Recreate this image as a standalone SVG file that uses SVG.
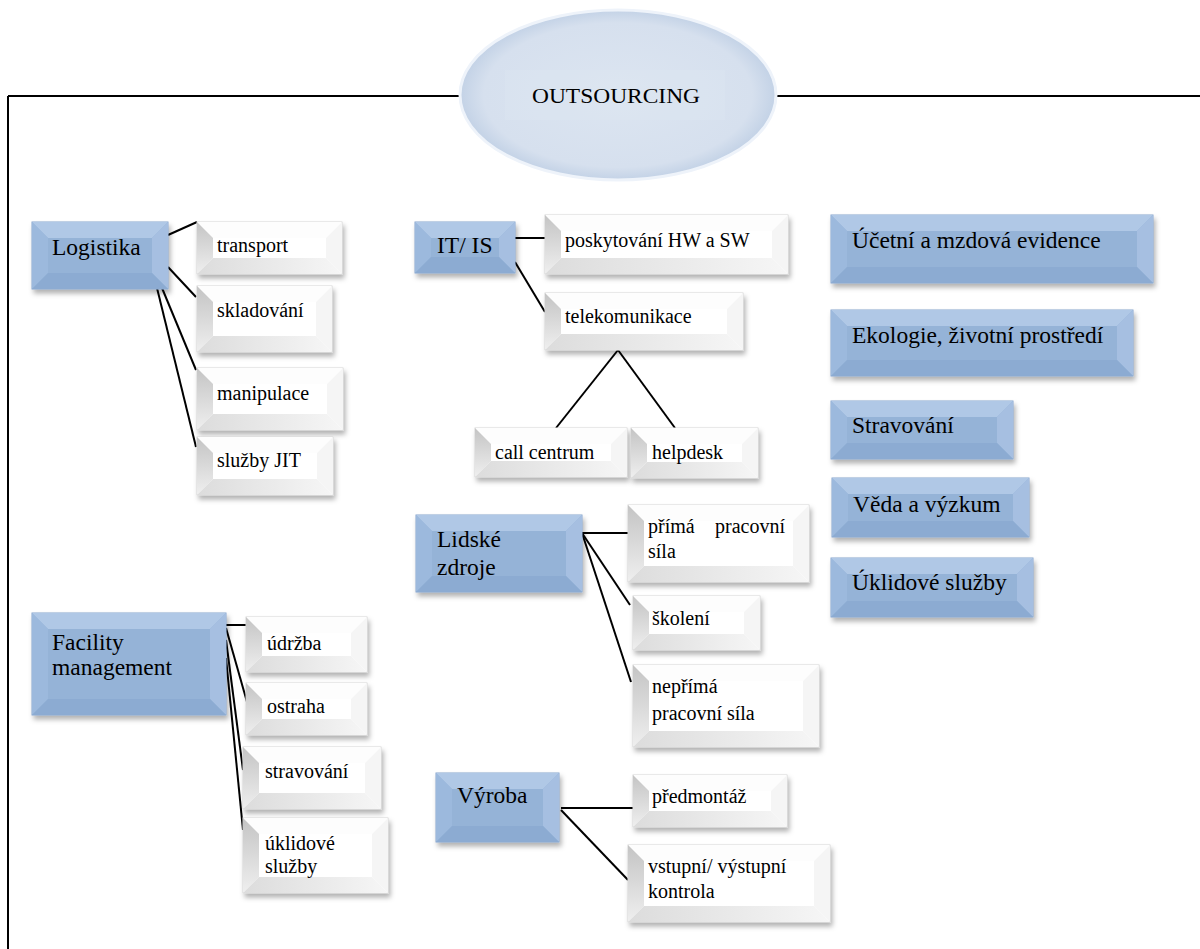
<svg xmlns="http://www.w3.org/2000/svg" width="1200" height="949" viewBox="0 0 1200 949">
<defs>
<filter id="sh" x="-10%" y="-20%" width="130%" height="150%">
<feDropShadow dx="2" dy="4" stdDeviation="2.5" flood-color="#000" flood-opacity="0.3"/>
</filter>
<radialGradient id="eg" cx="0.5" cy="0.5" r="0.5">
<stop offset="0" stop-color="#dce5f1"/>
<stop offset="0.85" stop-color="#d6e0ee"/>
<stop offset="1" stop-color="#c3d2e6"/>
</radialGradient>
<linearGradient id="wl" x1="0" y1="0" x2="0" y2="1">
<stop offset="0" stop-color="#c4c4c4"/>
<stop offset="1" stop-color="#efefef"/>
</linearGradient>
<linearGradient id="wb" x1="0" y1="0" x2="1" y2="0">
<stop offset="0" stop-color="#dcdcdc"/>
<stop offset="1" stop-color="#f6f6f6"/>
</linearGradient>
</defs>
<style>
.bb{fill:#95b3d7;stroke:#86a4cc;stroke-width:1;filter:url(#sh)}
.bt{fill:#b0c8e6}
.bl{fill:#9cb9dd}
.br{fill:#a6bfe1}
.bm{fill:#8cabd2}
.wb{fill:#ffffff;stroke:#d6d6d6;stroke-width:1;filter:url(#sh)}
.wt{fill:#fdfdfd}
.wl{fill:url(#wl)}
.wr{fill:#f5f5f5}
.wm{fill:url(#wb)}
.ln{stroke:#000;stroke-width:2;fill:none}
.fr{stroke:#000;stroke-width:2;fill:none}
</style>

<g id="frame">
<path class="fr" d="M8,96 H1200 M8,96 V949"/>
</g>

<g id="outsourcing">
<ellipse cx="618" cy="95" rx="158" ry="85" fill="url(#eg)" stroke="#eef3fa" stroke-width="3"/>
<rect x="505" y="70" width="220" height="50" fill="#dfe7f2" opacity="0.3"/>
<text x="616" y="103" text-anchor="middle" font-family="'Liberation Serif',serif" font-size="21" textLength="168" lengthAdjust="spacingAndGlyphs">OUTSOURCING</text>
</g>

<g id="connectors">
<line class="ln" x1="168" y1="235" x2="197" y2="222"/>
<line class="ln" x1="168" y1="267" x2="196" y2="297"/>
<line class="ln" x1="162" y1="288" x2="196" y2="370"/>
<line class="ln" x1="157" y1="288" x2="196" y2="447"/>
<line class="ln" x1="515" y1="238" x2="545" y2="238"/>
<line class="ln" x1="515" y1="262" x2="545" y2="312"/>
<line class="ln" x1="618" y1="350" x2="556" y2="428"/>
<line class="ln" x1="618" y1="350" x2="675" y2="428"/>
<line class="ln" x1="226" y1="625" x2="247" y2="625"/>
<line class="ln" x1="226" y1="628" x2="247" y2="702"/>
<line class="ln" x1="226" y1="640" x2="243" y2="770"/>
<line class="ln" x1="226" y1="658" x2="243" y2="830"/>
<line class="ln" x1="582" y1="533" x2="628" y2="533"/>
<line class="ln" x1="582" y1="533" x2="630" y2="605"/>
<line class="ln" x1="582" y1="533" x2="631" y2="682"/>
<line class="ln" x1="561" y1="808" x2="633" y2="808"/>
<line class="ln" x1="561" y1="810" x2="628" y2="880"/>
</g>

<!-- Blue nodes -->
<g id="logistika">
<g transform="translate(32,222)">
<rect class="bb" width="136" height="67"/>
<polygon class="bt" points="0,0 136,0 120,16 16,16"/>
<polygon class="bl" points="0,0 16,16 16,51 0,67"/>
<polygon class="br" points="136,0 136,67 120,51 120,16"/>
<polygon class="bm" points="0,67 16,51 120,51 136,67"/>
</g>
<text x="52" y="255" font-family="'Liberation Serif',serif" font-size="23.5">Logistika</text>
</g>
<g id="it-is">
<g transform="translate(415,222)">
<rect class="bb" width="100" height="51"/>
<polygon class="bt" points="0,0 100,0 84,16 16,16"/>
<polygon class="bl" points="0,0 16,16 16,35 0,51"/>
<polygon class="br" points="100,0 100,51 84,35 84,16"/>
<polygon class="bm" points="0,51 16,35 84,35 100,51"/>
</g>
<text x="437" y="253" font-family="'Liberation Serif',serif" font-size="23.5">IT/ IS</text>
</g>
<g id="ucetni">
<g transform="translate(831,215)">
<rect class="bb" width="322" height="68"/>
<polygon class="bt" points="0,0 322,0 306,16 16,16"/>
<polygon class="bl" points="0,0 16,16 16,52 0,68"/>
<polygon class="br" points="322,0 322,68 306,52 306,16"/>
<polygon class="bm" points="0,68 16,52 306,52 322,68"/>
</g>
<text x="852" y="248" font-family="'Liberation Serif',serif" font-size="23.5">Účetní a mzdová evidence</text>
</g>
<g id="ekologie">
<g transform="translate(831,310)">
<rect class="bb" width="302" height="66"/>
<polygon class="bt" points="0,0 302,0 286,16 16,16"/>
<polygon class="bl" points="0,0 16,16 16,50 0,66"/>
<polygon class="br" points="302,0 302,66 286,50 286,16"/>
<polygon class="bm" points="0,66 16,50 286,50 302,66"/>
</g>
<text x="852" y="343" font-family="'Liberation Serif',serif" font-size="23.5">Ekologie, životní prostředí</text>
</g>
<g id="stravovani-b">
<g transform="translate(831,401)">
<rect class="bb" width="182" height="58"/>
<polygon class="bt" points="0,0 182,0 166,16 16,16"/>
<polygon class="bl" points="0,0 16,16 16,42 0,58"/>
<polygon class="br" points="182,0 182,58 166,42 166,16"/>
<polygon class="bm" points="0,58 16,42 166,42 182,58"/>
</g>
<text x="852" y="433" font-family="'Liberation Serif',serif" font-size="23.5">Stravování</text>
</g>
<g id="veda">
<g transform="translate(832,478)">
<rect class="bb" width="197" height="59"/>
<polygon class="bt" points="0,0 197,0 181,16 16,16"/>
<polygon class="bl" points="0,0 16,16 16,43 0,59"/>
<polygon class="br" points="197,0 197,59 181,43 181,16"/>
<polygon class="bm" points="0,59 16,43 181,43 197,59"/>
</g>
<text x="853" y="512" font-family="'Liberation Serif',serif" font-size="23.5">Věda a výzkum</text>
</g>
<g id="uklidove-b">
<g transform="translate(831,558)">
<rect class="bb" width="202" height="59"/>
<polygon class="bt" points="0,0 202,0 186,16 16,16"/>
<polygon class="bl" points="0,0 16,16 16,43 0,59"/>
<polygon class="br" points="202,0 202,59 186,43 186,16"/>
<polygon class="bm" points="0,59 16,43 186,43 202,59"/>
</g>
<text x="852" y="590" font-family="'Liberation Serif',serif" font-size="23.5">Úklidové služby</text>
</g>
<g id="facility">
<g transform="translate(32,613)">
<rect class="bb" width="194" height="102"/>
<polygon class="bt" points="0,0 194,0 178,16 16,16"/>
<polygon class="bl" points="0,0 16,16 16,86 0,102"/>
<polygon class="br" points="194,0 194,102 178,86 178,16"/>
<polygon class="bm" points="0,102 16,86 178,86 194,102"/>
</g>
<text x="52" y="650" font-family="'Liberation Serif',serif" font-size="23.5">Facility</text>
<text x="52" y="675" font-family="'Liberation Serif',serif" font-size="23.5">management</text>
</g>
<g id="lidske">
<g transform="translate(416,515)">
<rect class="bb" width="166" height="77"/>
<polygon class="bt" points="0,0 166,0 150,16 16,16"/>
<polygon class="bl" points="0,0 16,16 16,61 0,77"/>
<polygon class="br" points="166,0 166,77 150,61 150,16"/>
<polygon class="bm" points="0,77 16,61 150,61 166,77"/>
</g>
<text x="437" y="547" font-family="'Liberation Serif',serif" font-size="23.5">Lidské</text>
<text x="437" y="575" font-family="'Liberation Serif',serif" font-size="23.5">zdroje</text>
</g>
<g id="vyroba">
<g transform="translate(436,773)">
<rect class="bb" width="123" height="69"/>
<polygon class="bt" points="0,0 123,0 107,16 16,16"/>
<polygon class="bl" points="0,0 16,16 16,53 0,69"/>
<polygon class="br" points="123,0 123,69 107,53 107,16"/>
<polygon class="bm" points="0,69 16,53 107,53 123,69"/>
</g>
<text x="457" y="803" font-family="'Liberation Serif',serif" font-size="23.5">Výroba</text>
</g>

<!-- White nodes -->
<g id="transport">
<g transform="translate(197,222)">
<rect class="wb" width="145" height="52"/>
<polygon class="wt" points="0,0 145,0 129,16 16,16"/>
<polygon class="wl" points="0,0 16,16 16,36 0,52"/>
<polygon class="wr" points="145,0 145,52 129,36 129,16"/>
<polygon class="wm" points="0,52 16,36 129,36 145,52"/>
</g>
<text x="217" y="252" font-family="'Liberation Serif',serif" font-size="20">transport</text>
</g>
<g id="skladovani">
<g transform="translate(197,286)">
<rect class="wb" width="135" height="66"/>
<polygon class="wt" points="0,0 135,0 119,16 16,16"/>
<polygon class="wl" points="0,0 16,16 16,50 0,66"/>
<polygon class="wr" points="135,0 135,66 119,50 119,16"/>
<polygon class="wm" points="0,66 16,50 119,50 135,66"/>
</g>
<text x="217" y="317" font-family="'Liberation Serif',serif" font-size="20">skladování</text>
</g>
<g id="manipulace">
<g transform="translate(197,368)">
<rect class="wb" width="146" height="62"/>
<polygon class="wt" points="0,0 146,0 130,16 16,16"/>
<polygon class="wl" points="0,0 16,16 16,46 0,62"/>
<polygon class="wr" points="146,0 146,62 130,46 130,16"/>
<polygon class="wm" points="0,62 16,46 130,46 146,62"/>
</g>
<text x="217" y="400" font-family="'Liberation Serif',serif" font-size="20">manipulace</text>
</g>
<g id="sluzby-jit">
<g transform="translate(197,437)">
<rect class="wb" width="136" height="58"/>
<polygon class="wt" points="0,0 136,0 120,16 16,16"/>
<polygon class="wl" points="0,0 16,16 16,42 0,58"/>
<polygon class="wr" points="136,0 136,58 120,42 120,16"/>
<polygon class="wm" points="0,58 16,42 120,42 136,58"/>
</g>
<text x="217" y="467" font-family="'Liberation Serif',serif" font-size="20">služby JIT</text>
</g>
<g id="poskytovani">
<g transform="translate(545,215)">
<rect class="wb" width="243" height="59"/>
<polygon class="wt" points="0,0 243,0 227,16 16,16"/>
<polygon class="wl" points="0,0 16,16 16,43 0,59"/>
<polygon class="wr" points="243,0 243,59 227,43 227,16"/>
<polygon class="wm" points="0,59 16,43 227,43 243,59"/>
</g>
<text x="565" y="247" font-family="'Liberation Serif',serif" font-size="20">poskytování HW a SW</text>
</g>
<g id="telekomunikace">
<g transform="translate(545,293)">
<rect class="wb" width="198" height="57"/>
<polygon class="wt" points="0,0 198,0 182,16 16,16"/>
<polygon class="wl" points="0,0 16,16 16,41 0,57"/>
<polygon class="wr" points="198,0 198,57 182,41 182,16"/>
<polygon class="wm" points="0,57 16,41 182,41 198,57"/>
</g>
<text x="565" y="323" font-family="'Liberation Serif',serif" font-size="20">telekomunikace</text>
</g>
<g id="call-centrum">
<g transform="translate(475,428)">
<rect class="wb" width="152" height="49"/>
<polygon class="wt" points="0,0 152,0 136,16 16,16"/>
<polygon class="wl" points="0,0 16,16 16,33 0,49"/>
<polygon class="wr" points="152,0 152,49 136,33 136,16"/>
<polygon class="wm" points="0,49 16,33 136,33 152,49"/>
</g>
<text x="495" y="459" font-family="'Liberation Serif',serif" font-size="20">call centrum</text>
</g>
<g id="helpdesk">
<g transform="translate(631,428)">
<rect class="wb" width="127" height="50"/>
<polygon class="wt" points="0,0 127,0 111,16 16,16"/>
<polygon class="wl" points="0,0 16,16 16,34 0,50"/>
<polygon class="wr" points="127,0 127,50 111,34 111,16"/>
<polygon class="wm" points="0,50 16,34 111,34 127,50"/>
</g>
<text x="652" y="459" font-family="'Liberation Serif',serif" font-size="20">helpdesk</text>
</g>
<g id="udrzba">
<g transform="translate(246,617)">
<rect class="wb" width="121" height="55"/>
<polygon class="wt" points="0,0 121,0 105,16 16,16"/>
<polygon class="wl" points="0,0 16,16 16,39 0,55"/>
<polygon class="wr" points="121,0 121,55 105,39 105,16"/>
<polygon class="wm" points="0,55 16,39 105,39 121,55"/>
</g>
<text x="267" y="650" font-family="'Liberation Serif',serif" font-size="20">údržba</text>
</g>
<g id="ostraha">
<g transform="translate(246,683)">
<rect class="wb" width="121" height="52"/>
<polygon class="wt" points="0,0 121,0 105,16 16,16"/>
<polygon class="wl" points="0,0 16,16 16,36 0,52"/>
<polygon class="wr" points="121,0 121,52 105,36 105,16"/>
<polygon class="wm" points="0,52 16,36 105,36 121,52"/>
</g>
<text x="267" y="713" font-family="'Liberation Serif',serif" font-size="20">ostraha</text>
</g>
<g id="stravovani-w">
<g transform="translate(243,747)">
<rect class="wb" width="138" height="62"/>
<polygon class="wt" points="0,0 138,0 122,16 16,16"/>
<polygon class="wl" points="0,0 16,16 16,46 0,62"/>
<polygon class="wr" points="138,0 138,62 122,46 122,16"/>
<polygon class="wm" points="0,62 16,46 122,46 138,62"/>
</g>
<text x="265" y="778" font-family="'Liberation Serif',serif" font-size="20">stravování</text>
</g>
<g id="uklidove-w">
<g transform="translate(243,818)">
<rect class="wb" width="145" height="75"/>
<polygon class="wt" points="0,0 145,0 129,16 16,16"/>
<polygon class="wl" points="0,0 16,16 16,59 0,75"/>
<polygon class="wr" points="145,0 145,75 129,59 129,16"/>
<polygon class="wm" points="0,75 16,59 129,59 145,75"/>
</g>
<text x="265" y="850" font-family="'Liberation Serif',serif" font-size="20">úklidové</text>
<text x="265" y="873" font-family="'Liberation Serif',serif" font-size="20">služby</text>
</g>
<g id="prima">
<g transform="translate(628,505)">
<rect class="wb" width="181" height="77"/>
<polygon class="wt" points="0,0 181,0 165,16 16,16"/>
<polygon class="wl" points="0,0 16,16 16,61 0,77"/>
<polygon class="wr" points="181,0 181,77 165,61 165,16"/>
<polygon class="wm" points="0,77 16,61 165,61 181,77"/>
</g>
<text x="648" y="533" font-family="'Liberation Serif',serif" font-size="20">přímá</text>
<text x="715" y="533" font-family="'Liberation Serif',serif" font-size="20">pracovní</text>
<text x="648" y="558" font-family="'Liberation Serif',serif" font-size="20">síla</text>
</g>
<g id="skoleni">
<g transform="translate(633,596)">
<rect class="wb" width="127" height="54"/>
<polygon class="wt" points="0,0 127,0 111,16 16,16"/>
<polygon class="wl" points="0,0 16,16 16,38 0,54"/>
<polygon class="wr" points="127,0 127,54 111,38 111,16"/>
<polygon class="wm" points="0,54 16,38 111,38 127,54"/>
</g>
<text x="652" y="625" font-family="'Liberation Serif',serif" font-size="20">školení</text>
</g>
<g id="neprima">
<g transform="translate(633,665)">
<rect class="wb" width="186" height="82"/>
<polygon class="wt" points="0,0 186,0 170,16 16,16"/>
<polygon class="wl" points="0,0 16,16 16,66 0,82"/>
<polygon class="wr" points="186,0 186,82 170,66 170,16"/>
<polygon class="wm" points="0,82 16,66 170,66 186,82"/>
</g>
<text x="652" y="693" font-family="'Liberation Serif',serif" font-size="20">nepřímá</text>
<text x="652" y="720" font-family="'Liberation Serif',serif" font-size="20">pracovní síla</text>
</g>
<g id="predmontaz">
<g transform="translate(633,775)">
<rect class="wb" width="154" height="52"/>
<polygon class="wt" points="0,0 154,0 138,16 16,16"/>
<polygon class="wl" points="0,0 16,16 16,36 0,52"/>
<polygon class="wr" points="154,0 154,52 138,36 138,16"/>
<polygon class="wm" points="0,52 16,36 138,36 154,52"/>
</g>
<text x="652" y="803" font-family="'Liberation Serif',serif" font-size="20">předmontáž</text>
</g>
<g id="vstupni">
<g transform="translate(628,845)">
<rect class="wb" width="202" height="77"/>
<polygon class="wt" points="0,0 202,0 186,16 16,16"/>
<polygon class="wl" points="0,0 16,16 16,61 0,77"/>
<polygon class="wr" points="202,0 202,77 186,61 186,16"/>
<polygon class="wm" points="0,77 16,61 186,61 202,77"/>
</g>
<text x="648" y="873" font-family="'Liberation Serif',serif" font-size="20">vstupní/ výstupní</text>
<text x="648" y="898" font-family="'Liberation Serif',serif" font-size="20">kontrola</text>
</g>
</svg>
